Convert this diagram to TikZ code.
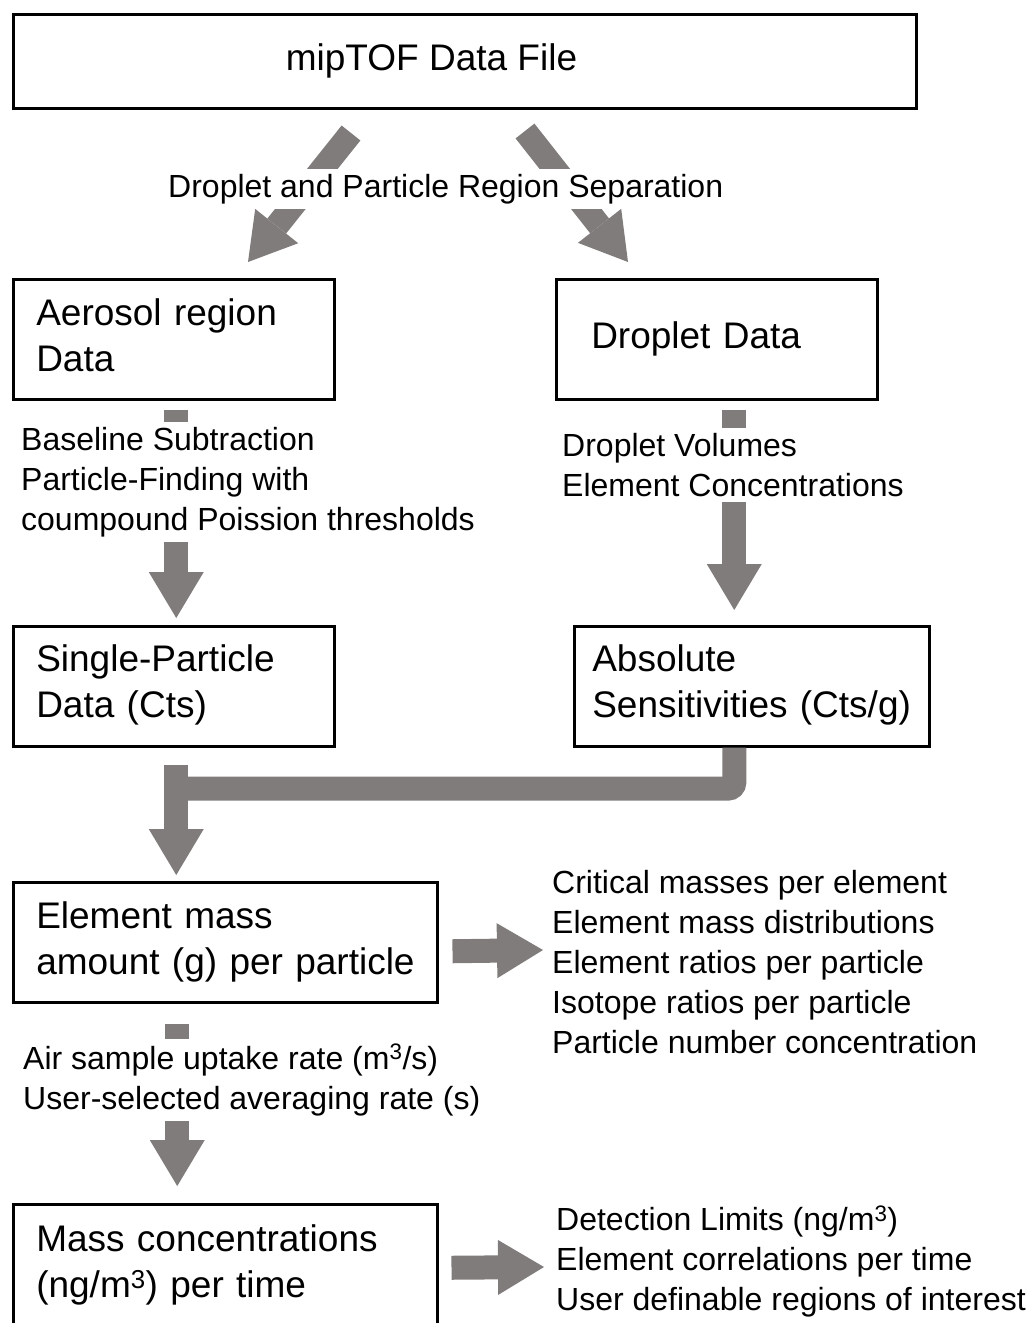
\documentclass[tikz,border=0pt]{standalone}
\usepackage{fontspec}
\setmainfont{Liberation Sans}
\usetikzlibrary{arrows.meta,calc}
\definecolor{arrgray}{RGB}{128,124,123}
\begin{document}
\begin{tikzpicture}[x=1pt,y=-1pt,
  box/.style={draw=black, line width=2.5pt, anchor=north west, inner xsep=23pt, inner ysep=0pt, align=left, font=\fontsize{37}{46}\selectfont},
  lbl/.style={fill=white, inner xsep=2pt, inner ysep=5pt, align=left, anchor=west, font=\fontsize{32}{40}\selectfont},
  shaft/.style={draw=arrgray, line width=24pt},
  arr/.style={shaft, -{Triangle[length=46pt,width=55pt,line width=0pt]}, arrgray},
]
\useasboundingbox (0,0) rectangle (1031,1323);
% boxes
\node[box, minimum width=903pt, minimum height=94pt] (top) at (12,13) {};
\node[font=\fontsize{37}{46}\selectfont] (toplbl) at (431.5,61) {mipTOF Data File};
\node[box, text width=275pt, minimum height=120pt] (aer) at (12,278) {\mbox{Aerosol region}\\Data\vspace{7pt}};
\node[box, text width=251pt, inner xsep=35pt, minimum height=120pt] (dd) at (555,278) {Droplet Data};
\node[box, text width=275pt, minimum height=120pt] (sp) at (12,625) {\mbox{Single-Particle}\\\mbox{Data (Cts)}\vspace{3pt}};
\node[box, text width=319pt, inner xsep=18pt, minimum height=120pt] (abs) at (573,625) {Absolute\\\mbox{Sensitivities (Cts/g)}\vspace{3pt}};
\node[box, text width=378pt, minimum height=120pt] (em) at (12,881) {\mbox{Element mass}\\\mbox{amount (g) per particle}};
\node[box, text width=378pt, minimum height=121pt] (mc) at (12,1203) {\mbox{Mass concentrations}\\\mbox{(ng/m\textsuperscript{3}) per time}};
% top split arrows
\coordinate (a1s) at (351,133);
\coordinate (a1e) at (248,262);
\coordinate (a2s) at (525,131);
\coordinate (a2e) at (628,262);
\draw[arr] (a1s) -- (a1e);
\draw[arr] (a2s) -- (a2e);
\node[lbl] (sep) at (166,189) {Droplet and Particle Region Separation};
% aerosol -> single particle
\draw[arr] ([xshift=2.5pt,yshift=-9pt]aer.south) -- ([xshift=2.5pt,yshift=7pt]sp.north);
\node[lbl] (bl) at (19,482) {Baseline Subtraction\\Particle-Finding with\\coumpound Poission thresholds};
% droplet -> absolute
\draw[arr] ([xshift=17.5pt,yshift=-9pt]dd.south) -- ([xshift=17.5pt,yshift=15pt]dd.south |- abs.north);
\node[lbl] (dv) at (560,465) {Droplet Volumes\\Element Concentrations};
% merge
\draw[shaft, rounded corners=6pt] ([xshift=-17.5pt]abs.south) |- ([xshift=2.5pt,yshift=-41pt]sp.south);
\draw[arr] ([xshift=2.5pt,yshift=-17pt]sp.south) -- ([xshift=2.5pt,yshift=6pt]sp.south |- em.north);
% element -> mass conc
\draw[arr] ([xshift=-48pt,yshift=-20pt]em.south) -- ([xshift=-48pt,yshift=17pt]em.south |- mc.north);
\node[lbl] (air) at (21,1080) {Air sample uptake rate (m\textsuperscript{3}/s)\\User-selected averaging rate (s)};
% right outputs
\coordinate (r1) at (543,950);
\draw[arr] ([xshift=14pt,yshift=-9pt]em.east) -- (r1);
\node[lbl] (crit) at (550,962) {Critical masses per element\\Element mass distributions\\Element ratios per particle\\Isotope ratios per particle\\Particle number concentration};
\coordinate (r2) at (544,1267);
\draw[arr] ([xshift=13pt,yshift=-3pt]mc.east) -- (r2);
\node[lbl] (det) at (554,1261) {Detection Limits (ng/m\textsuperscript{3})\\Element correlations per time\\User definable regions of interest};
\end{tikzpicture}
\end{document}
